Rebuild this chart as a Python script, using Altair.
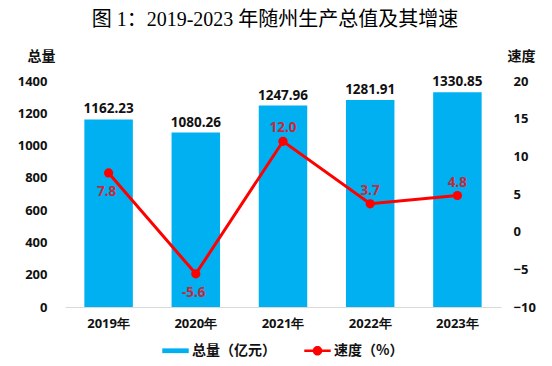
import altair as alt
import pandas as pd

years = ["2019年", "2020年", "2021年", "2022年", "2023年"]
totals = [1162.23, 1080.26, 1247.96, 1281.91, 1330.85]
growth = [7.8, -5.6, 12.0, 3.7, 4.8]
growth_label_side = ["below", "below", "above", "above", "above"]
series_names = ["总量（亿元）", "速度（%）"]
left_ticks = [0, 200, 400, 600, 800, 1000, 1200, 1400]
right_ticks = [-10, -5, 0, 5, 10, 15, 20]

df = pd.DataFrame({
    "year": years,
    "total": totals,
    "growth": growth,
    "side": growth_label_side,
})
df["total_txt"] = [f"{v:.2f}" for v in totals]
df["growth_txt"] = [f"{v:.1f}" for v in growth]

BLUE = "#00B0F0"
RED = "#FF0000"
DARKRED = "#C8283A"
FONT = "Noto Sans CJK SC"
NUMFONT = "Noto Sans"

x = alt.X("year:N", sort=years, title=None,
          scale=alt.Scale(paddingInner=0.444, paddingOuter=0.222),
          axis=alt.Axis(labelFont=NUMFONT, labelFontSize=13, labelFontWeight="bold",
                        labelColor="#111", labelAngle=0, labelPadding=10,
                        ticks=False, grid=False, domainColor="#d9d9d9", domainWidth=1))

left_scale = alt.Scale(domain=[0, 1400], nice=False)
left_axis = alt.Axis(values=left_ticks, format="d", labelOverlap=False,
                     grid=False, domain=False, ticks=False,
                     labelFont=NUMFONT, labelFontSize=13, labelFontWeight="bold",
                     labelColor="#111", labelPadding=18,
                     title="总量", titleFont=FONT, titleFontSize=14,
                     titleFontWeight="bold", titleColor="#111",
                     titleAngle=0, titleX=-24, titleY=-25,
                     titleAlign="center", titleBaseline="middle")
left_y = alt.Y("total:Q", scale=left_scale, axis=left_axis)

bars = alt.Chart(df).mark_bar(color=BLUE).encode(x=x, y=left_y)

bar_text = alt.Chart(df).mark_text(
    font=NUMFONT, fontSize=13.5, fontWeight="bold", color="#111",
    baseline="alphabetic", dy=-6
).encode(x=x, y=left_y, text="total_txt:N")

right_scale = alt.Scale(domain=[-10, 20], nice=False)
right_axis = alt.Axis(orient="right", values=right_ticks, format="d",
                      labelOverlap=False,
                      grid=False, domain=False, ticks=False,
                      labelFont=NUMFONT, labelFontSize=13, labelFontWeight="bold",
                      labelColor="#111", labelPadding=12,
                      title="速度", titleFont=FONT, titleFontSize=14,
                      titleFontWeight="bold", titleColor="#111",
                      titleAngle=0, titleX=20, titleY=-25,
                      titleAlign="center", titleBaseline="middle")
right_y = alt.Y("growth:Q", scale=right_scale, axis=right_axis)

line = alt.Chart(df).mark_line(color=RED, strokeWidth=3).encode(x=x, y=right_y)
points = alt.Chart(df).mark_circle(color=RED, size=85, opacity=1).encode(
    x=x, y=right_y)

txt_common = dict(font=NUMFONT, fontSize=13.5, fontWeight="bold", color=DARKRED)
above = alt.Chart(df).transform_filter(alt.datum.side == "above").mark_text(
    baseline="alphabetic", dy=-9, **txt_common
).encode(x=x, y=right_y, text="growth_txt:N")
below = alt.Chart(df).transform_filter(alt.datum.side == "below").mark_text(
    baseline="top", dy=12, dx=-2, **txt_common
).encode(x=x, y=right_y, text="growth_txt:N")

rect_path = "M-1,-0.18H1V0.18H-1Z"
line_circle_path = ("M-1,-0.1H1V0.1H-1Z "
                    "M0.36,0A0.36,0.36 0 1,1 -0.36,0A0.36,0.36 0 1,1 0.36,0Z")

legend_props = dict(title=None, orient="none", direction="horizontal",
                    legendX=97, legendY=256,
                    symbolSize=700, symbolStrokeWidth=0,
                    labelFont=FONT, labelFontSize=14,
                    labelFontWeight="bold", labelColor="#111",
                    labelOffset=3, columnPadding=28)

legend_layer = alt.Chart(alt.Data(values=[{"s": series_names[1]}])).transform_filter(
    "false"
).mark_point(filled=True, opacity=1, strokeWidth=0).encode(
    color=alt.Color("s:N", scale=alt.Scale(domain=series_names, range=[BLUE, RED]),
                    legend=alt.Legend(**legend_props)),
    shape=alt.Shape("s:N", scale=alt.Scale(domain=series_names,
                                           range=[rect_path, line_circle_path]),
                    legend=alt.Legend(**legend_props)),
)

left = alt.layer(bars, bar_text)
right = alt.layer(line, points, above, below)

chart = alt.layer(left, right, legend_layer).resolve_scale(y="independent").properties(
    width=436, height=226,
    background="white",
    autosize=alt.AutoSizeParams(type="none"),
    padding={"left": 57, "top": 73, "right": 43, "bottom": 51},
    title=alt.TitleParams("图 1：2019-2023 年随州生产总值及其增速",
                          font="Liberation Serif, Noto Sans CJK SC", fontSize=20,
                          fontWeight="normal", color="#000", anchor="middle",
                          frame="group", offset=19, dx=-8),
).configure_view(stroke=None).configure_axis(labelOverlap=False)

chart.save("out.html", embed_options={"renderer": "svg", "actions": False})
